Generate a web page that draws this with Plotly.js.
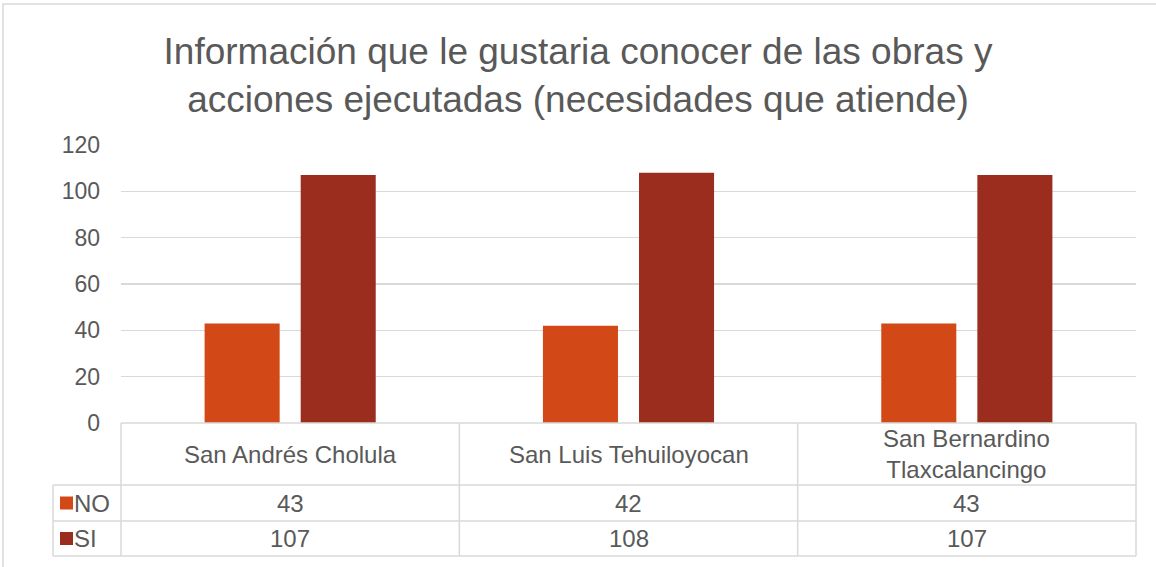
<!DOCTYPE html>
<html>
<head>
<meta charset="utf-8">
<script src="https://cdn.plot.ly/plotly-3.0.1.min.js"></script>
<style>html,body{margin:0;padding:0;background:#fff;}#chart{width:1156px;height:567px;}</style>
</head>
<body>
<div id="chart"></div>
<script>
var categories = ["San Andrés Cholula", "San Luis Tehuiloyocan", "San Bernardino Tlaxcalancingo"];
var categoryLabels = ["San Andrés Cholula", "San Luis Tehuiloyocan", "San Bernardino<br>Tlaxcalancingo"];
var seriesNames = ["NO", "SI"];
var noValues = [43, 42, 43];
var siValues = [107, 108, 107];
var yTicks = [0, 20, 40, 60, 80, 100, 120];

var colors = ["#D34817", "#9B2D1F"];
var textColor = "#595959";
var lineColor = "#D9D9D9";
var fontFam = "Liberation Sans, Arial, sans-serif";

var W = 1156, H = 567;
var L = 121, R = 1136, T = 145, B = 423;
function px(x) { return (x - L) / (R - L); }
function py(y) { return (B - y) / (B - T); }

var rowCat = 485, rowNo = 521, rowSi = 556, legLeft = 53;
var colEdges = [L, L + (R - L) / 3, L + 2 * (R - L) / 3, R];

var traces = [
  {type: "bar", name: seriesNames[0], x: categories, y: noValues, marker: {color: colors[0]}, hoverinfo: "none"},
  {type: "bar", name: seriesNames[1], x: categories, y: siValues, marker: {color: colors[1]}, hoverinfo: "none"}
];

var shapes = [];
function line(x0, y0, x1, y1) {
  shapes.push({type: "line", xref: "paper", yref: "paper", x0: px(x0), y0: py(y0), x1: px(x1), y1: py(y1),
    line: {color: lineColor, width: 1.5}, layer: "above"});
}
// chart outer border
shapes.push({type: "rect", xref: "paper", yref: "paper", x0: px(3), y0: py(4), x1: px(1200), y1: py(600),
  line: {color: lineColor, width: 1.5}, fillcolor: "rgba(0,0,0,0)", layer: "below"});
// table lines
line(L, B, R, B);
line(legLeft, rowCat, R, rowCat);
line(legLeft, rowNo, R, rowNo);
line(legLeft, rowSi, R, rowSi);
line(legLeft, rowCat, legLeft, rowSi);
colEdges.forEach(function (x) { line(x, B, x, rowSi); });
// legend keys
var rowsY = [(rowCat + rowNo) / 2, (rowNo + rowSi) / 2];
rowsY.forEach(function (yc, i) {
  shapes.push({type: "rect", xref: "paper", yref: "paper", x0: px(60), x1: px(73), y0: py(yc - 6.5), y1: py(yc + 6.5),
    line: {width: 0}, fillcolor: colors[i]});
});

var annotations = [];
var tf = {family: fontFam, size: 24, color: textColor};
categories.forEach(function (c, i) {
  annotations.push({xref: "x", yref: "paper", x: c, y: py((B + rowCat) / 2), text: categoryLabels[i],
    showarrow: false, font: tf, xanchor: "center", yanchor: "middle"});
  annotations.push({xref: "x", yref: "paper", x: c, y: py(rowsY[0]), text: String(noValues[i]),
    showarrow: false, font: tf, xanchor: "center", yanchor: "middle"});
  annotations.push({xref: "x", yref: "paper", x: c, y: py(rowsY[1]), text: String(siValues[i]),
    showarrow: false, font: tf, xanchor: "center", yanchor: "middle"});
});
seriesNames.forEach(function (s, i) {
  annotations.push({xref: "paper", yref: "paper", x: px(72), y: py(rowsY[i]), text: s,
    showarrow: false, font: tf, xanchor: "left", yanchor: "middle"});
});

var layout = {
  width: W, height: H,
  margin: {l: L, r: W - R, t: T, b: H - B, pad: 0},
  paper_bgcolor: "#fff", plot_bgcolor: "#fff",
  title: {text: "Información que le gustaria conocer de las obras y<br>acciones ejecutadas (necesidades que atiende)",
    font: {family: fontFam, size: 37, color: textColor}, x: 0.5, xanchor: "center", y: 1 - 64 / H, yanchor: "middle"},
  showlegend: false,
  barmode: "group", bargap: 0.432, bargroupgap: 0.219,
  xaxis: {showticklabels: false, ticks: "", showgrid: false, zeroline: false, showline: false, fixedrange: true},
  yaxis: {range: [0, 120], tickvals: yTicks, showgrid: true, gridcolor: lineColor, gridwidth: 1.5,
    zeroline: false, showline: false, ticks: "", ticklabelstandoff: 20,
    tickfont: {family: fontFam, size: 23, color: textColor}, fixedrange: true},
  shapes: shapes, annotations: annotations
};
Plotly.newPlot("chart", traces, layout, {staticPlot: true, displayModeBar: false});
</script>
</body>
</html>
